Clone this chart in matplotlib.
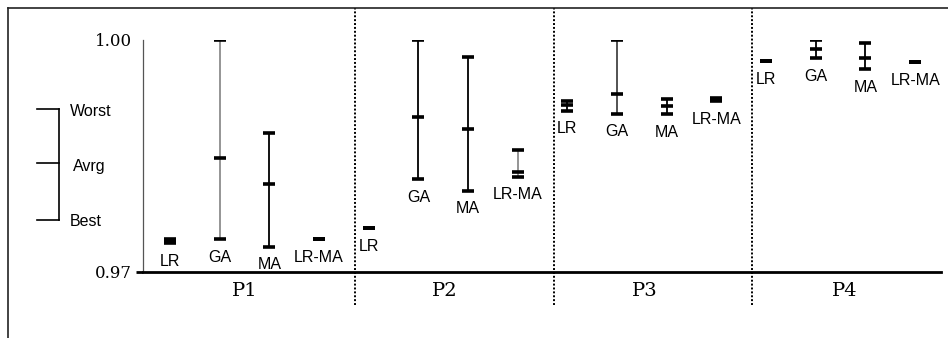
import numpy as np
import matplotlib.pyplot as plt
from matplotlib.lines import Line2D
from matplotlib.transforms import blended_transform_factory

# ----------------------------
# データ
# ----------------------------
problems = ["P1", "P2", "P3", "P4"]
methods = ["LR", "GA", "MA", "LR-MA"]

best = [[0.97375, 0.97427, 0.97328, 0.97427],
        [0.97565, 0.98203, 0.98052, 0.98233],
        [0.99086, 0.99047, 0.99039, 0.99207],
        [0.99728, 0.99763, 0.99625, 0.99716]]
avrg = [[0.97400, 0.98478, 0.98134, 0.97427],
        [0.97565, 0.99000, 0.98845, 0.98297],
        [0.99155, 0.99302, 0.99147, 0.99227],
        [0.99728, 0.99880, 0.99763, 0.99716]]
worst = [[0.97427, 1.00000, 0.98802, 0.97427],
         [0.97565, 1.00000, 0.99776, 0.98573],
         [0.99215, 1.00000, 0.99233, 0.99246],
         [0.99728, 1.00000, 0.99957, 0.99716]]

yticks = [0.97, 1.00]
ytick_labels = ["0.97", "1.00"]

# 線の色（一部の区間だけ灰色）
line_colors = [["black", "#8c8c8c", "black", "black"],
               ["black", "black", "black", "#8c8c8c"],
               ["black", "#444444", "black", "black"],
               ["black", "black", "black", "black"]]

sans = "Liberation Sans"
serif = "DejaVu Serif"

# ----------------------------
# 図の準備
# ----------------------------
W, H = 948, 338
fig = plt.figure(figsize=(W / 100, H / 100), dpi=100)
ax = fig.add_axes([143 / W, 1 - 272 / H, (941 - 143) / W, (272 - 40) / H])

xs = np.arange(len(problems) * len(methods)) * 1.0

for i, p in enumerate(problems):
    for j, m in enumerate(methods):
        x = xs[i * len(methods) + j]
        b, a, w = best[i][j], avrg[i][j], worst[i][j]
        ax.plot([x, x], [b, w], color=line_colors[i][j], lw=1.3, zorder=2)
        ax.plot([x, x, x], [b, a, w], linestyle="none", marker="_",
                markersize=8, markeredgewidth=2.6, color="black", zorder=3)
        ax.annotate(m, (x, b), xytext=(0, -13), textcoords="offset points",
                    ha="center", va="center", fontsize=11.5, family=sans)

# 区切り線とグループ名
n = len(methods)
seps = [(xs[(i + 1) * n - 1] + xs[(i + 1) * n]) / 2 + 0.22 for i in range(len(problems) - 1)]
trans = blended_transform_factory(ax.transData, ax.transAxes)
for s in seps:
    ax.plot([s, s], [-0.142, 1.138], transform=trans, color="black",
            lw=1.4, linestyle=(0, (1, 1)), clip_on=False)
for i, p in enumerate(problems):
    cx = xs[i * n:(i + 1) * n].mean() + 0.03 * i
    ax.text(cx, -0.08, p, transform=trans, ha="center", va="center",
            fontsize=14, family=serif)

ax.set_xlim(xs[0] - 0.544, xs[-1] + 0.52)
ax.set_ylim(0.97, 1.00)
ax.set_xticks([])
ax.set_yticks(yticks)
ax.set_yticklabels(ytick_labels, family=serif, fontsize=12)
ax.tick_params(axis="y", length=5, width=2, pad=3)
ax.yaxis.get_major_ticks()[1].tick1line.set_visible(False)

for side in ["top", "right"]:
    ax.spines[side].set_visible(False)
ax.spines["left"].set_color("#555555")
ax.spines["left"].set_linewidth(0.9)
ax.spines["bottom"].set_linewidth(2)

# ----------------------------
# 凡例（Worst / Avrg / Best）
# ----------------------------
def fx(px):
    return px / W

def fy(py):
    return 1 - py / H

for py in [109, 163, 220]:
    fig.add_artist(Line2D([fx(37), fx(59)], [fy(py), fy(py)], color="black", lw=1.2))
fig.add_artist(Line2D([fx(59), fx(59)], [fy(109), fy(220)], color="black", lw=1.2))
fig.text(fx(70), fy(112), "Worst", fontsize=11.5, family=sans, va="center")
fig.text(fx(73), fy(167), "Avrg", fontsize=11.5, family=sans, va="center")
fig.text(fx(70), fy(222), "Best", fontsize=11.5, family=sans, va="center")

# 外枠（上と左）
fig.add_artist(Line2D([fx(8), 1], [fy(8), fy(8)], color="#222222", lw=1.2))
fig.add_artist(Line2D([fx(8), fx(8)], [fy(8), 0], color="#222222", lw=1.2))

fig.savefig("out.png", dpi=100)
